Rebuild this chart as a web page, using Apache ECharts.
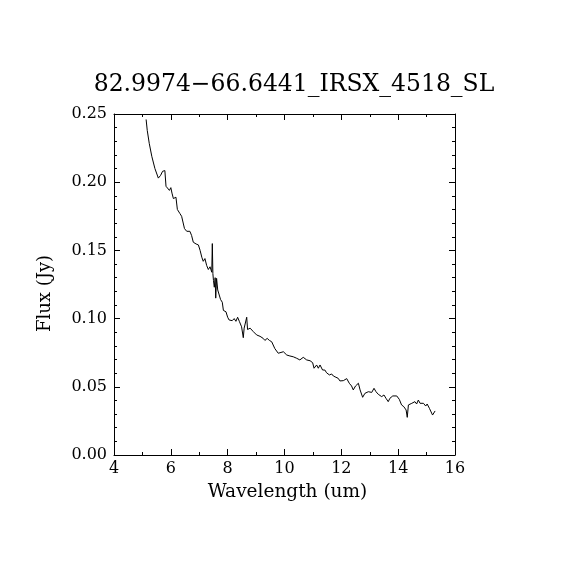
<!DOCTYPE html>
<html>
<head>
<meta charset="utf-8">
<script src="https://cdn.jsdelivr.net/npm/echarts@6/dist/echarts.min.js"></script>
<style>
  html, body { margin: 0; padding: 0; background: #fff; }
  #chart { width: 570px; height: 570px; }
</style>
</head>
<body>
<div id="chart"></div>
<script>
var titleText = '82.9974\u221266.6441_IRSX_4518_SL';
var xTicks = [4, 6, 8, 10, 12, 14, 16];
var yTicks = ['0.00', '0.05', '0.10', '0.15', '0.20', '0.25'];

// spectrum
var wavelength = [
  5.13, 5.17, 5.24, 5.33, 5.44, 5.56, 5.64, 5.71, 5.79, 5.83, 5.95, 6.00, 6.04, 6.09, 6.18, 6.23,
  6.32, 6.38, 6.44, 6.48, 6.56, 6.67, 6.73, 6.77, 6.79, 6.89, 6.97, 7.03, 7.09, 7.14, 7.20, 7.26,
  7.32, 7.38, 7.44, 7.46, 7.48, 7.50, 7.53, 7.56, 7.58, 7.61, 7.65, 7.71, 7.75, 7.81, 7.85, 7.94,
  8.00, 8.05, 8.10, 8.16, 8.23, 8.29, 8.35, 8.41, 8.49, 8.55, 8.58, 8.64, 8.67, 8.70, 8.79, 8.90,
  9.02, 9.14, 9.25, 9.31, 9.39, 9.47, 9.55, 9.66, 9.78, 9.84, 9.96, 10.08, 10.19, 10.31, 10.43,
  10.54, 10.66, 10.78, 10.90, 10.99, 11.04, 11.13, 11.19, 11.25, 11.34, 11.42, 11.48, 11.58,
  11.66, 11.72, 11.81, 11.89, 11.95, 12.07, 12.19, 12.28, 12.36, 12.42, 12.50, 12.60, 12.66,
  12.75, 12.83, 12.95, 13.07, 13.15, 13.22, 13.30, 13.36, 13.42, 13.50, 13.57, 13.65, 13.71,
  13.81, 13.95, 14.04, 14.12, 14.20, 14.28, 14.32, 14.36, 14.42, 14.48, 14.54, 14.59, 14.65,
  14.71, 14.77, 14.83, 14.89, 14.97, 15.02, 15.10, 15.16, 15.21, 15.30
];
var flux = [
  0.246, 0.238, 0.2285, 0.219, 0.210, 0.203, 0.205, 0.208, 0.2085, 0.197, 0.194, 0.196, 0.192, 0.188, 0.189, 0.180,
  0.177, 0.175, 0.176, 0.166, 0.164, 0.164, 0.161, 0.160, 0.156, 0.1547, 0.154, 0.150, 0.145, 0.142, 0.144, 0.139,
  0.136, 0.138, 0.134, 0.155, 0.133, 0.128, 0.123, 0.130, 0.115, 0.1295, 0.121, 0.120, 0.114, 0.112, 0.106, 0.105,
  0.101, 0.099, 0.100, 0.0985, 0.100, 0.098, 0.101, 0.098, 0.094, 0.086, 0.093, 0.092, 0.101, 0.092, 0.093, 0.0905,
  0.088, 0.087, 0.0855, 0.084, 0.0855, 0.084, 0.083, 0.078, 0.0746, 0.0733, 0.0757, 0.0733, 0.0726, 0.072, 0.0709,
  0.0697, 0.0716, 0.0697, 0.0691, 0.0677, 0.0636, 0.066, 0.0636, 0.066, 0.0623, 0.0623, 0.0603, 0.0587,
  0.0594, 0.0579, 0.057, 0.0562, 0.0543, 0.0545, 0.056, 0.0526, 0.0506, 0.0477, 0.0506, 0.0526, 0.0477,
  0.0423, 0.0452, 0.0464, 0.0459, 0.0489, 0.0464, 0.0445, 0.0457, 0.0428, 0.044, 0.0416, 0.0391, 0.0416,
  0.0433, 0.0433, 0.0408, 0.0367, 0.0354, 0.033, 0.0276, 0.0367, 0.0367, 0.0379, 0.0367, 0.0391, 0.0374,
  0.0403, 0.0379, 0.0367, 0.0379, 0.0359, 0.0374, 0.0342, 0.033, 0.0293, 0.0323
];

var points = wavelength.map(function (w, i) { return [w, flux[i]]; });
var serif = 'DejaVu Serif';

var chart = echarts.init(document.getElementById('chart'), null, { renderer: 'canvas' });

function xAxis(pos, showLabels) {
  return {
    type: 'value', position: pos, min: xTicks[0], max: xTicks[xTicks.length - 1], interval: 2,
    name: showLabels ? 'Wavelength (um)' : '', nameLocation: 'middle', nameGap: 28,
    nameTextStyle: { fontFamily: serif, fontSize: 18.5, color: '#000', padding: [0, 0, 0, 6] },
    axisLine: { show: true, onZero: false, lineStyle: { color: '#000', width: 1 } },
    axisTick: { show: true, inside: true, length: 6, lineStyle: { color: '#000' } },
    minorTick: { show: true, splitNumber: 2, length: 3, lineStyle: { color: '#000' } },
    axisLabel: { show: showLabels, fontFamily: serif, fontSize: 16, color: '#000', margin: 6 },
    splitLine: { show: false }
  };
}

function yAxis(pos, showLabels) {
  return {
    type: 'value', position: pos, min: 0, max: 0.25, interval: 0.05,
    name: showLabels ? 'Flux (Jy)' : '', nameLocation: 'middle', nameGap: 60, nameRotate: 90,
    nameTextStyle: { fontFamily: serif, fontSize: 18, color: '#000', padding: [0, 18, 0, 0] },
    axisLine: { show: true, onZero: false, lineStyle: { color: '#000', width: 1 } },
    axisTick: { show: true, inside: true, length: 6, lineStyle: { color: '#000' } },
    minorTick: { show: true, splitNumber: 5, length: 3, lineStyle: { color: '#000' } },
    axisLabel: {
      show: showLabels, fontFamily: serif, fontSize: 16, color: '#000', margin: 7,
      formatter: function (v) { return yTicks[Math.round(v / 0.05)]; }
    },
    splitLine: { show: false }
  };
}

chart.setOption({
  backgroundColor: '#fff',
  animation: false,
  title: {
    text: titleText, left: 289, top: 68, textAlign: 'center',
    textStyle: { fontFamily: serif, fontSize: 23.5, fontWeight: 'normal', color: '#000' }
  },
  grid: { left: 114, top: 114, width: 341, height: 341 },
  xAxis: [xAxis('bottom', true), xAxis('top', false)],
  yAxis: [yAxis('left', true), yAxis('right', false)],
  series: [{
    type: 'line',
    data: points,
    symbol: 'none',
    lineStyle: { color: '#000', width: 1 }
  }]
});
</script>
</body>
</html>
